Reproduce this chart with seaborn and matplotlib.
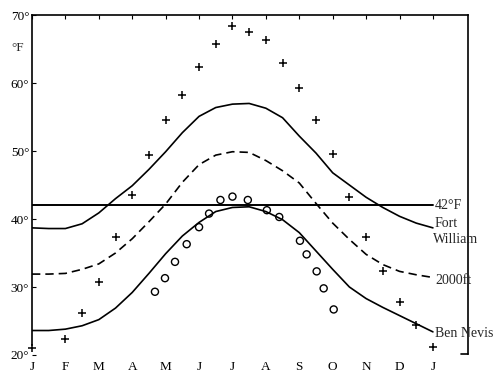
import matplotlib
matplotlib.use("Agg")
import matplotlib.pyplot as plt
import seaborn as sns
import pandas as pd

# ---- data ----
month_labels = ["J", "F", "M", "A", "M", "J", "J", "A", "S", "O", "N", "D", "J"]
month_ticks = [0, 1, 2, 3, 4, 5, 6, 7, 8, 9, 10, 11, 12]

curve_months = [0, 0.5, 1, 1.5, 2, 2.5, 3, 3.5, 4, 4.5, 5, 5.5, 6,
                6.5, 7, 7.5, 8, 8.5, 9, 9.5, 10, 10.5, 11, 11.5, 12]
fort_william = [38.7, 38.6, 38.6, 39.3, 40.9, 43.0, 44.9, 47.3, 49.9, 52.7, 55.1, 56.4, 56.9,
                57.0, 56.3, 54.9, 52.2, 49.7, 46.8, 45.0, 43.2, 41.7, 40.4, 39.4, 38.7]
level_2000ft = [31.9, 31.9, 32.0, 32.6, 33.4, 35.0, 37.1, 39.6, 42.2, 45.4, 48.0, 49.4, 49.9,
                49.8, 48.6, 47.1, 45.3, 42.3, 39.4, 37.0, 34.8, 33.3, 32.3, 31.8, 31.4]
ben_nevis = [23.6, 23.6, 23.8, 24.3, 25.2, 26.9, 29.2, 32.0, 34.9, 37.5, 39.5, 41.1, 41.7,
             41.8, 41.1, 39.9, 38.0, 35.3, 32.6, 30.0, 28.3, 27.0, 25.8, 24.6, 23.4]

plus_months = [0, 1, 1.5, 2, 2.5, 3, 3.5, 4, 4.5, 5, 5.5, 6, 6.5,
               7, 7.5, 8, 8.5, 9, 9.5, 10, 10.5, 11, 11.5, 12]
plus_temps = [21.1, 22.3, 26.2, 30.8, 37.4, 43.5, 49.4, 54.5, 58.3, 62.4, 65.8, 68.4, 67.5,
              66.3, 62.9, 59.3, 54.5, 49.6, 43.3, 37.4, 32.4, 27.8, 24.4, 21.2]

circle_months = [3.68, 3.98, 4.28, 4.63, 5.0, 5.3, 5.64, 6.0, 6.46, 7.03, 7.4,
                 8.02, 8.22, 8.52, 8.73, 9.03]
circle_temps = [29.3, 31.3, 33.7, 36.3, 38.8, 40.8, 42.8, 43.3, 42.8, 41.3, 40.3,
                36.8, 34.8, 32.3, 29.8, 26.7]

threshold_months = [0, 12]
threshold_temps = [42, 42]

y_ticks = [20, 30, 40, 50, 60, 70]
y_tick_labels = ["20°", "30°", "40°", "50°", "60°", "70°"]

curves = pd.DataFrame({"month": curve_months, "fw": fort_william,
                       "ft2000": level_2000ft, "bn": ben_nevis})

# ---- style ----
sns.set_style("white")
plt.rcParams["font.family"] = ["Liberation Serif", "DejaVu Serif"]

fig = plt.figure(figsize=(5.0, 3.77), dpi=100)
ax = fig.add_axes([0.064, 0.0584, 0.872, 0.9016])

lw = 1.2
sns.lineplot(data=curves, x="month", y="fw", ax=ax, color="black", linewidth=lw)
sns.lineplot(data=curves, x="month", y="ft2000", ax=ax, color="black", linewidth=lw,
             linestyle=(0, (5, 3)))
sns.lineplot(data=curves, x="month", y="bn", ax=ax, color="black", linewidth=lw)
sns.lineplot(x=threshold_months, y=threshold_temps, ax=ax, color="black", linewidth=1.4)

sns.scatterplot(x=plus_months, y=plus_temps, ax=ax, marker="+", s=40,
                color="black", linewidth=1.1, clip_on=False, zorder=5)
sns.scatterplot(x=circle_months, y=circle_temps, ax=ax, marker="o", s=26,
                facecolor="none", edgecolor="black", linewidth=1.0, zorder=5)

ax.set_xlim(0, 13.05)
ax.set_ylim(20, 70)
ax.set_xlabel("")
ax.set_ylabel("")

ax.set_xticks(month_ticks, month_labels)
ax.set_yticks(y_ticks, y_tick_labels)
ax.tick_params(axis="x", bottom=False, top=True, labelbottom=True, direction="in",
               length=3, width=0.8, pad=4.5, labelsize=9.5, colors="black")
ax.tick_params(axis="y", left=True, right=False, direction="in",
               length=3, width=0.8, pad=2, labelsize=9.5, colors="black")

for side in ["left", "right", "top"]:
    ax.spines[side].set_color("black")
    ax.spines[side].set_linewidth(1.2)
ax.spines["bottom"].set_visible(False)
ax.spines["left"].set_bounds(21.5, 70)
ax.spines["right"].set_bounds(20.1, 70)
ax.plot([12.85, 13.05], [20.1, 20.1], color="black", linewidth=1.2, clip_on=False)

ax.text(-0.42, 65.2, "°F", ha="center", va="center", fontsize=9.5)

ax.text(12.06, 42, "42°F", ha="left", va="center", fontsize=10)
ax.text(12.06, 39.4, "Fort", ha="left", va="center", fontsize=10)
ax.text(12.0, 37.0, "William", ha="left", va="center", fontsize=10)
ax.text(12.06, 31.0, "2000ft", ha="left", va="center", fontsize=10)
ax.text(12.06, 23.1, "Ben Nevis", ha="left", va="center", fontsize=10)

ax.grid(False)
fig.savefig("out.png", dpi=100, facecolor="white")
